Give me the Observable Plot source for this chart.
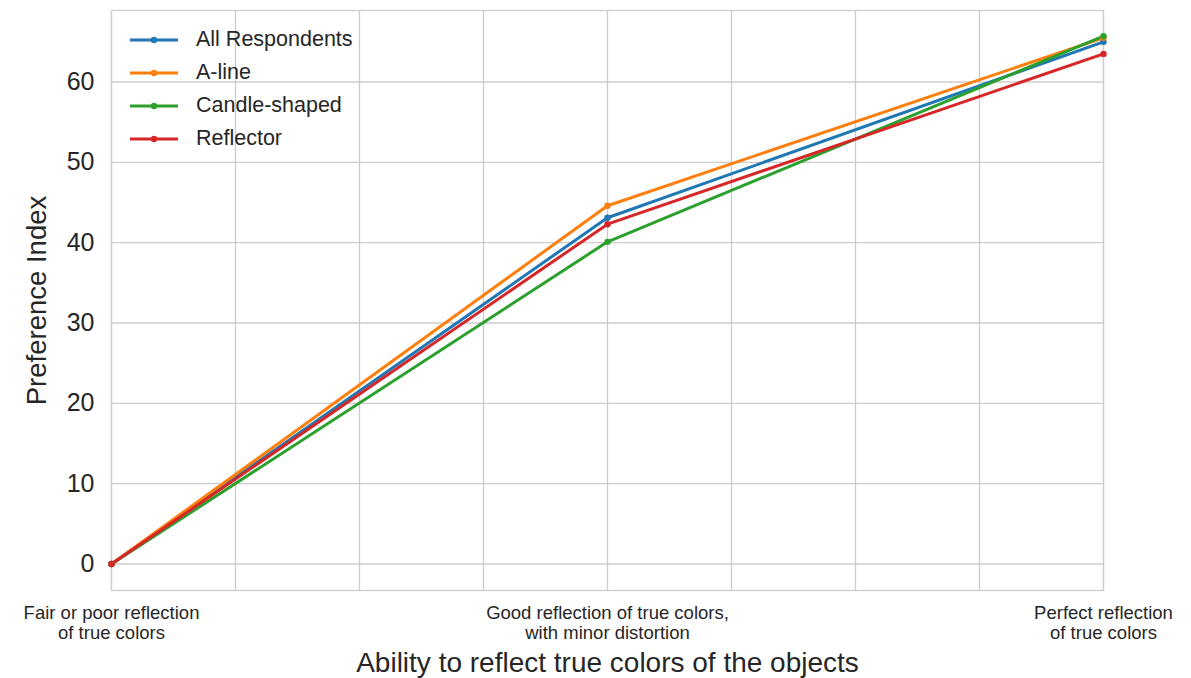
<!DOCTYPE html>
<html>
<head>
<meta charset="utf-8">
<script src="https://cdn.jsdelivr.net/npm/d3@7"></script>
<script src="https://cdn.jsdelivr.net/npm/@observablehq/plot@0.6"></script>
<style>
  html, body { margin: 0; padding: 0; background: #fff; }
  #wrap { position: relative; width: 1191px; height: 678px; font-family: "Liberation Sans", Arial, sans-serif; }
  #legend { position: absolute; left: 130px; top: 23px; }
  .li { display: flex; align-items: center; height: 33px; font-size: 21.5px; color: #262626; }
  .li svg { margin-right: 18px; }
</style>
</head>
<body>
<div id="wrap"><div id="chart"></div><div id="legend"></div></div>
<script>
const series = ["All Respondents", "A-line", "Candle-shaped", "Reflector"];
const colors = ["#1f77b4", "#ff7f0e", "#2ca02c", "#d62728"];
const xPositions = [0, 4, 8];
const categories = ["Fair or poor reflection\nof true colors", "Good reflection of true colors,\nwith minor distortion", "Perfect reflection\nof true colors"];
const allRespondents = [0, 43.1, 65.0];
const aLine = [0, 44.6, 65.5];
const candleShaped = [0, 40.1, 65.7];
const reflector = [0, 42.3, 63.5];
const yTicks = [0, 10, 20, 30, 40, 50, 60];
const xGrid = [0, 1, 2, 3, 4, 5, 6, 7, 8];

const valuesBySeries = [allRespondents, aLine, candleShaped, reflector];
const data = [];
series.forEach((s, i) => valuesBySeries[i].forEach((v, j) => data.push({series: s, x: xPositions[j], y: v})));

const chart = Plot.plot({
  width: 1191,
  height: 678,
  marginLeft: 111,
  marginRight: 88,
  marginTop: 10,
  marginBottom: 88,
  style: {fontFamily: "Liberation Sans, Arial, sans-serif", color: "#262626", background: "#fff"},
  x: {domain: [0, 8]},
  y: {domain: [-3.3, 68.9]},
  color: {domain: series, range: colors},
  marks: [
    Plot.gridX(xGrid, {stroke: "#cccccc", strokeOpacity: 1, strokeWidth: 1.3}),
    Plot.gridY(yTicks, {stroke: "#cccccc", strokeOpacity: 1, strokeWidth: 1.3}),
    Plot.frame({stroke: "#cccccc", strokeWidth: 1.3}),
    Plot.axisY(yTicks, {tickSize: 0, tickPadding: 17, fontSize: 25, label: null}),
    Plot.axisX(xPositions, {tickSize: 0, tickPadding: 14, fontSize: 18.5, label: null,
      tickFormat: (d) => categories[xPositions.indexOf(d)], lineHeight: 1.08}),
    Plot.text(["Ability to reflect true colors of the objects"], {frameAnchor: "bottom", dy: 73, fontSize: 28, fill: "#262626", lineAnchor: "middle"}),
    Plot.text(["Preference Index"], {frameAnchor: "left", dx: -74, rotate: -90, textAnchor: "middle", fontSize: 27.5, fill: "#262626"}),
    Plot.line(data, {x: "x", y: "y", z: "series", stroke: "series", strokeWidth: 3}),
    Plot.dot(data, {x: "x", y: "y", fill: "series", r: 3.2})
  ]
});
document.getElementById("chart").appendChild(chart);

const legend = document.getElementById("legend");
series.forEach((s, i) => {
  const row = document.createElement("div");
  row.className = "li";
  row.innerHTML = `<svg width="48" height="10"><line x1="0" y1="5" x2="48" y2="5" stroke="${colors[i]}" stroke-width="3"/><circle cx="24" cy="5" r="3.2" fill="${colors[i]}"/></svg><span>${s}</span>`;
  legend.appendChild(row);
});
</script>
</body>
</html>
